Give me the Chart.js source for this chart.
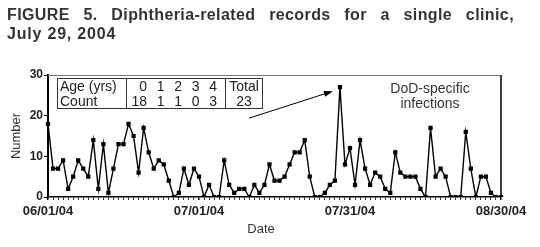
<!DOCTYPE html>
<html>
<head>
<meta charset="utf-8">
<script src="https://cdn.jsdelivr.net/npm/chart.js@4.4.1/dist/chart.umd.min.js"></script>
<style>
  body { margin: 0; background: #fff; }
  #wrap { position: relative; width: 540px; height: 247px; overflow: hidden;
          font-family: "Liberation Sans", Arial, sans-serif; color: #333; }
  canvas { position: absolute; left: 0; top: 0; }
  .title { position: absolute; left: 7px; width: 507px; font-size: 16px; font-weight: bold;
           line-height: 19px; letter-spacing: 0.4px; white-space: nowrap; color: #333; }
  #title1 { top: 5px; text-align: justify; text-align-last: justify; white-space: normal; }
  #title2 { top: 24px; letter-spacing: 0.8px; }
  #inset { position: absolute; left: 57px; top: 78px; width: 204px; height: 29px;
           border: 1px solid #333; font-size: 14px; color: #222; }
  #inset span { position: absolute; line-height: 15px; }
  .divider { position: absolute; top: 0; width: 1px; height: 29px; background: #333; }
  #note { position: absolute; left: 370px; width: 120px; top: 81px; text-align: center;
          font-size: 14px; line-height: 15px; color: #333; }
  #xtitle { position: absolute; left: 231px; width: 60px; top: 221px; text-align: center;
            font-size: 13px; color: #333; }
</style>
</head>
<body>
<div id="wrap">
  <canvas id="myChart" width="540" height="247"></canvas>
  <div class="title" id="title1">FIGURE 5. Diphtheria-related records for a single clinic,</div>
  <div class="title" id="title2">July 29, 2004</div>
  <div id="inset"></div>
  <div id="note">DoD-specific<br>infections</div>
  <div id="xtitle">Date</div>
</div>
<script>
// daily records, 06/01/04 .. 08/30/04
const startDate = new Date(2004, 5, 1);
const records = [18, 7, 7, 9, 2, 5, 9, 7, 5, 14,
                 2, 13, 1, 7, 13, 13, 18, 15, 6, 17,
                 11, 7, 9, 8, 4, 0, 1, 7, 3, 7,
                 5, 0, 3, 0, 0, 9, 3, 1, 2, 2,
                 0, 3, 1, 3, 8, 4, 4, 5, 8, 11,
                 11, 14, 5, 0, 0, 1, 3, 4, 27, 8,
                 12, 3, 14, 7, 3, 6, 5, 2, 1, 11,
                 6, 5, 5, 5, 2, 0, 17, 5, 7, 5,
                 0, 0, 0, 16, 7, 0, 5, 5, 1, 0, 0];
const tickLabels = ['06/01/04', '07/01/04', '07/31/04', '08/30/04'];
const yTicks = [0, 10, 20, 30];

// inset table
const ageGroups = ['0', '1', '2', '3', '4'];
const ageCounts = [18, 1, 1, 0, 3];
const totalCount = 23;

function fmt(d) {
    const mm = String(d.getMonth() + 1).padStart(2, '0');
    const dd = String(d.getDate()).padStart(2, '0');
    return mm + '/' + dd + '/' + String(d.getFullYear()).slice(2);
}

let days = [];
for (let i = 0; i < records.length; i++) {
    const d = new Date(startDate);
    d.setDate(d.getDate() + i);
    days.push(fmt(d));
}

// build the inset
const inset = document.getElementById('inset');
function addText(txt, x, y, align) {
    const s = document.createElement('span');
    s.textContent = txt;
    s.style.top = y + 'px';
    if (align == 'right') { s.style.left = (x - 30) + 'px'; s.style.width = '30px'; s.style.textAlign = 'right'; }
    else if (align == 'center') { s.style.left = (x - 25) + 'px'; s.style.width = '50px'; s.style.textAlign = 'center'; }
    else s.style.left = x + 'px';
    inset.appendChild(s);
}
addText('Age (yrs)', 2, 0);
addText('Count', 2, 15);
for (let i = 0; i < ageGroups.length; i++) {
    addText(ageGroups[i], 89 + i * 17.5, 0, 'right');
    addText(String(ageCounts[i]), 89 + i * 17.5, 15, 'right');
}
addText('Total', 186, 0, 'center');
addText(String(totalCount), 186, 15, 'center');
[68, 167].forEach(function (x) {
    const d = document.createElement('div');
    d.className = 'divider';
    d.style.left = x + 'px';
    inset.appendChild(d);
});

const peakIndex = records.indexOf(Math.max(...records));

const framePlugin = {
    id: 'frame',
    afterDatasetsDraw(chart) {
        const ctx = chart.ctx;
        const a = chart.chartArea;
        ctx.save();
        // top and right sides of the box
        ctx.strokeStyle = '#777';
        ctx.lineWidth = 1;
        ctx.beginPath();
        ctx.moveTo(a.left, a.top + 0.5);
        ctx.lineTo(a.right, a.top + 0.5);
        ctx.stroke();
        ctx.strokeStyle = '#000';
        ctx.lineWidth = 1.5;
        ctx.beginPath();
        ctx.moveTo(a.right, a.top);
        ctx.lineTo(a.right, a.bottom);
        ctx.stroke();

        // arrow pointing at the peak
        const px = chart.scales.x.getPixelForValue(peakIndex);
        const py = chart.scales.y.getPixelForValue(records[peakIndex]);
        const tx = px - 7, ty = py + 4;
        const sx = px - 91, sy = py + 31;
        const ang = Math.atan2(ty - sy, tx - sx);
        ctx.lineWidth = 1;
        ctx.beginPath();
        ctx.moveTo(sx, sy);
        ctx.lineTo(tx - 6 * Math.cos(ang), ty - 6 * Math.sin(ang));
        ctx.stroke();
        ctx.fillStyle = '#000';
        ctx.beginPath();
        ctx.moveTo(tx, ty);
        ctx.lineTo(tx - 9 * Math.cos(ang) + 3 * Math.sin(ang), ty - 9 * Math.sin(ang) - 3 * Math.cos(ang));
        ctx.lineTo(tx - 9 * Math.cos(ang) - 3 * Math.sin(ang), ty - 9 * Math.sin(ang) + 3 * Math.cos(ang));
        ctx.closePath();
        ctx.fill();
        ctx.restore();
    }
};

const ctx = document.getElementById('myChart').getContext('2d');
const myChart = new Chart(ctx, {
    type: 'line',
    data: {
        labels: days,
        datasets: [{
            label: 'Number',
            data: records,
            borderColor: '#000',
            backgroundColor: '#000',
            borderWidth: 1.4,
            pointStyle: 'rect',
            pointRadius: 2,
            tension: 0
        }]
    },
    options: {
        responsive: false,
        animation: false,
        events: [],
        layout: { padding: { top: 75, right: 39, left: 0, bottom: 0 } },
        plugins: { legend: { display: false }, tooltip: { enabled: false } },
        scales: {
            x: {
                offset: false,
                afterFit: function (scale) { scale.height = 50; },
                border: { color: '#000', width: 1.5 },
                grid: {
                    drawOnChartArea: false,
                    tickLength: 3,
                    color: '#000',
                    lineWidth: function (c) { return tickLabels.includes(days[c.index]) ? 1.5 : 0.8; }
                },
                ticks: {
                    autoSkip: false,
                    maxRotation: 0,
                    padding: 4,
                    color: '#222',
                    font: { family: 'Liberation Sans', size: 13, weight: 'bold' },
                    callback: function (v, i) { return tickLabels.includes(days[i]) ? days[i] : ''; }
                }
            },
            y: {
                min: 0,
                max: 30,
                afterFit: function (scale) { scale.width = 48; },
                afterBuildTicks: function (scale) { scale.ticks = yTicks.map(v => ({ value: v })); },
                border: { color: '#000', width: 2 },
                grid: { drawOnChartArea: false, tickLength: 4, color: '#000' },
                ticks: {
                    padding: 1,
                    color: '#222',
                    font: { family: 'Liberation Sans', size: 12, weight: 'bold' }
                },
                title: {
                    display: true,
                    text: 'Number',
                    color: '#333',
                    padding: { top: 9, bottom: 0 },
                    font: { family: 'Liberation Sans', size: 13 }
                }
            }
        }
    },
    plugins: [framePlugin]
});
</script>
</body>
</html>
